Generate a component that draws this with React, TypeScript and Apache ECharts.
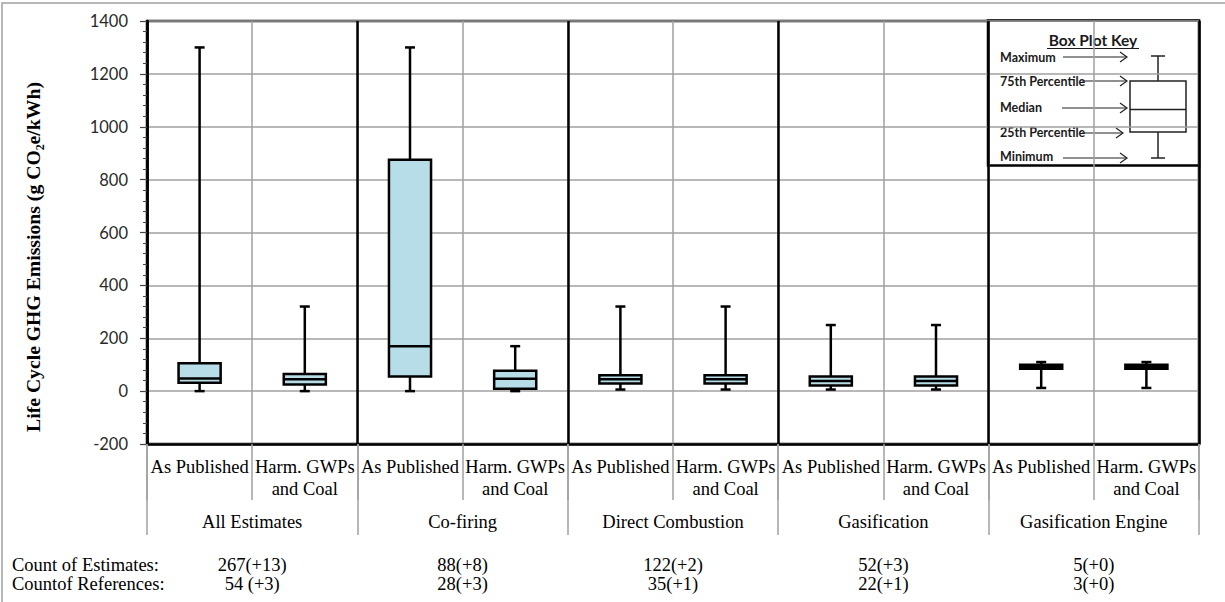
import React, { useEffect, useRef } from "react";
import * as echarts from "echarts";

const subCategories = [
  "As Published", "Harm. GWPs\nand Coal",
  "As Published", "Harm. GWPs\nand Coal",
  "As Published", "Harm. GWPs\nand Coal",
  "As Published", "Harm. GWPs\nand Coal",
  "As Published", "Harm. GWPs\nand Coal",
];
const groups = ["All Estimates", "Co-firing", "Direct Combustion", "Gasification", "Gasification Engine"];
const minValues = [0, 0, 0, 0, 6, 6, 6, 6, 12, 12];
const q1Values = [32, 25, 55, 9, 29, 29, 21, 21, 85, 85];
const medianValues = [48, 45, 170, 47, 45, 45, 38, 38, 92, 92];
const q3Values = [105, 65, 875, 77, 60, 60, 55, 55, 100, 100];
const maxValues = [1300, 320, 1300, 170, 320, 320, 250, 250, 110, 110];
const estimateCounts = ["267(+13)", "88(+8)", "122(+2)", "52(+3)", "5(+0)"];
const referenceCounts = ["54 (+3)", "28(+3)", "35(+1)", "22(+1)", "3(+0)"];
const countLabels = ["Count of Estimates:", "Countof References:"];
const keyLabels = ["Maximum", "75th Percentile", "Median", "25th Percentile", "Minimum"];
const yAxisTitle = "Life Cycle GHG Emissions (g CO\u2082e/kWh)";

const SERIF = "'Liberation Serif', 'Times New Roman', serif";
const SANS = "Lato, 'Open Sans', sans-serif";
const BOX_FILL = "#B7DEE8";
const GRAY = "#A0A0A0";

function arrow(x1: number, x2: number, y: number) {
  return [
    { type: "line", shape: { x1, y1: y, x2, y2: y }, style: { stroke: "#222", lineWidth: 1.2 } },
    {
      type: "polyline",
      shape: { points: [[x2 - 7, y - 5], [x2, y], [x2 - 7, y + 5]] },
      style: { stroke: "#222", lineWidth: 1.2, fill: "none" },
    },
  ];
}

export default function App() {
  const ref = useRef<HTMLDivElement>(null);
  useEffect(() => {
    if (!ref.current) return;
    const chart = echarts.init(ref.current, undefined, { renderer: "svg" });
    const data = subCategories.map((_, i) => [
      i, minValues[i], q1Values[i], medianValues[i], q3Values[i], maxValues[i],
    ]);

    const keyY = [57, 81, 107, 132, 156];
    const arrowSpec: [number, number, number][] = [
      [1063, 1127, 57], [1082, 1127, 81], [1062, 1127, 108], [1082, 1123, 133], [1063, 1127, 158],
    ];
    const keyChildren: any[] = [
      { type: "rect", shape: { x: 988, y: 20.5, width: 211, height: 145 }, style: { fill: "#fff", stroke: "#000", lineWidth: 2.5 } },
      { type: "text", style: { text: "Box Plot Key", x: 1093, y: 40, align: "center", verticalAlign: "middle", fontFamily: SANS, fontWeight: "bold", fontSize: 15.5, fill: "#1a1a1a" } },
      { type: "line", shape: { x1: 1047, y1: 48.5, x2: 1139, y2: 48.5 }, style: { stroke: "#1a1a1a", lineWidth: 1.2 } },
      ...keyLabels.map((t, i) => ({
        type: "text",
        style: { text: t, x: 1000, y: keyY[i], align: "left", verticalAlign: "middle", fontFamily: SANS, fontWeight: "bold", fontSize: 12.5, fill: "#1a1a1a" },
      })),
      ...arrowSpec.flatMap(([a, b, y]) => arrow(a, b, y)),
      { type: "line", shape: { x1: 1158, y1: 56, x2: 1158, y2: 158 }, style: { stroke: "#222", lineWidth: 1.5 } },
      { type: "line", shape: { x1: 1151, y1: 56, x2: 1165, y2: 56 }, style: { stroke: "#222", lineWidth: 1.5 } },
      { type: "line", shape: { x1: 1151, y1: 158, x2: 1165, y2: 158 }, style: { stroke: "#222", lineWidth: 1.5 } },
      { type: "rect", shape: { x: 1130, y: 81, width: 56, height: 51 }, style: { fill: "#fff", stroke: "#222", lineWidth: 1.5 } },
      { type: "line", shape: { x1: 1130, y1: 109.5, x2: 1186, y2: 109.5 }, style: { stroke: "#222", lineWidth: 1.5 } },
    ];

    chart.setOption({
      animation: false,
      backgroundColor: "#fff",
      grid: {
        left: 147, right: 26, top: 21, bottom: 158,
        show: true, borderColor: "#000", borderWidth: 2.5, backgroundColor: "transparent",
      },
      xAxis: [
        {
          type: "category",
          data: subCategories,
          position: "bottom",
          axisLine: { show: true, onZero: false, lineStyle: { color: "#000", width: 2.5 } },
          axisTick: { show: true, interval: 0, length: 56, lineStyle: { color: GRAY, width: 1.5 } },
          axisLabel: { interval: 0, margin: 12, fontFamily: SERIF, fontSize: 18.5, lineHeight: 22, color: "#000" },
          splitLine: { show: true, interval: 0, lineStyle: { color: GRAY, width: 1.5 } },
        },
        {
          type: "category",
          data: groups,
          position: "bottom",
          axisLine: { show: false, onZero: false },
          axisTick: { show: true, interval: 0, length: 91, lineStyle: { color: GRAY, width: 1.5 } },
          axisLabel: { interval: 0, margin: 67, fontFamily: SERIF, fontSize: 18.5, lineHeight: 22, color: "#000" },
          splitLine: { show: true, interval: 0, lineStyle: { color: "#000", width: 2.5 } },
        },
        {
          type: "category",
          data: groups,
          position: "bottom",
          axisLine: { show: false, onZero: false },
          axisTick: { show: false },
          axisLabel: {
            interval: 0, margin: 111, fontFamily: SERIF, fontSize: 18.5, lineHeight: 19, color: "#000",
            formatter: (_v: string, i: number) => estimateCounts[i] + "\n" + referenceCounts[i],
          },
          splitLine: { show: false },
        },
      ],
      yAxis: {
        type: "value",
        min: -200, max: 1400, interval: 200,
        axisLine: { show: true, lineStyle: { color: "#000", width: 2.5 } },
        axisTick: { show: true, length: 7, lineStyle: { color: "#444", width: 1.2 } },
        minorTick: { show: true, splitNumber: 5, length: 4, lineStyle: { color: "#444", width: 1 } },
        axisLabel: { margin: 19, fontFamily: SANS, fontSize: 16.5, color: "#2a2a2a", formatter: (v: number) => String(v) },
        splitLine: { show: true, lineStyle: { color: GRAY, width: 1.5 } },
      },
      graphic: [
        { type: "rect", z: -10, shape: { x: 2, y: 3, width: 1400, height: 800 }, style: { fill: "none", stroke: GRAY, lineWidth: 1.5 } },
        {
          type: "text", x: 33, y: 257, rotation: Math.PI / 2,
          style: { text: yAxisTitle, x: 0, y: 0, align: "center", verticalAlign: "middle", fontFamily: SERIF, fontWeight: "bold", fontSize: 19.7, fill: "#000" },
        },
        ...countLabels.map((t, i) => ({
          type: "text",
          style: { text: t, x: 12, y: 565 + i * 19, verticalAlign: "middle", fontFamily: SERIF, fontSize: 18.5, fill: "#000" },
        })),
        { type: "group", z: 100, children: keyChildren },
      ],
      series: [
        {
          type: "custom",
          xAxisIndex: 0,
          yAxisIndex: 0,
          encode: { x: 0, y: [1, 2, 3, 4, 5] },
          data,
          z: 10,
          renderItem: (params: any, api: any) => {
            const idx = api.value(0);
            const x = api.coord([idx, 0])[0];
            const yMin = api.coord([idx, api.value(1)])[1];
            const yQ1 = api.coord([idx, api.value(2)])[1];
            const yMed = api.coord([idx, api.value(3)])[1];
            const yQ3 = api.coord([idx, api.value(4)])[1];
            const yMax = api.coord([idx, api.value(5)])[1];
            const bw = api.size([1, 0])[0] * 0.4;
            const cap = 5;
            const ls = { stroke: "#000", lineWidth: 2.5 };
            return {
              type: "group",
              children: [
                { type: "line", shape: { x1: x, y1: yQ3, x2: x, y2: yMax }, style: ls },
                { type: "line", shape: { x1: x, y1: yQ1, x2: x, y2: yMin }, style: ls },
                { type: "line", shape: { x1: x - cap, y1: yMax, x2: x + cap, y2: yMax }, style: ls },
                { type: "line", shape: { x1: x - cap, y1: yMin, x2: x + cap, y2: yMin }, style: ls },
                { type: "rect", shape: { x: x - bw / 2, y: yQ3, width: bw, height: yQ1 - yQ3 }, style: { fill: BOX_FILL, stroke: "#000", lineWidth: 2.5 } },
                { type: "line", shape: { x1: x - bw / 2, y1: yMed, x2: x + bw / 2, y2: yMed }, style: ls },
              ],
            };
          },
        },
      ],
    });
    return () => chart.dispose();
  }, []);
  return <div ref={ref} style={{ position: "absolute", left: 0, top: 0, width: 1225, height: 602 }} />;
}
